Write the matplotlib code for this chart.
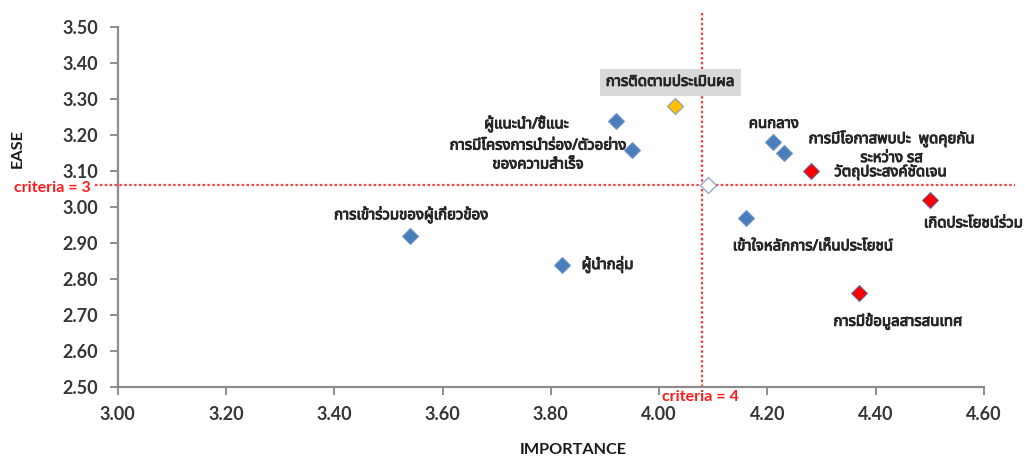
import matplotlib
matplotlib.use("Agg")
import matplotlib.pyplot as plt
from matplotlib import font_manager
from matplotlib import patheffects

# ---------------------------------------------------------------- data
importance = [3.92, 3.95, 4.03, 4.21, 4.23, 4.28, 4.50, 4.16, 4.37, 3.54, 3.82, 4.09]
ease = [3.24, 3.16, 3.28, 3.18, 3.15, 3.10, 3.02, 2.97, 2.76, 2.92, 2.84, 3.06]
groups = ["base", "base", "focus", "base", "base", "key", "key", "base", "key", "base", "base", "mean"]
labels = [
    "ผู้แนะนำ/ชี้แนะ",
    "การมีโครงการนำร่อง/ตัวอย่าง\nของความสำเร็จ",
    "การติดตามประเมินผล",
    "คนกลาง",
    "การมีโอกาสพบปะ  พูดคุยกัน\nระหว่าง รส",
    "วัตถุประสงค์ชัดเจน",
    "เกิดประโยชน์ร่วม",
    "เข้าใจหลักการ/เห็นประโยชน์",
    "การมีข้อมูลสารสนเทศ",
    "การเข้าร่วมของผู้เกี่ยวข้อง",
    "ผู้นำกลุ่ม",
    "",
]
criteria_importance = 4.08
criteria_ease = 3.06
criteria_labels = ["criteria = 4", "criteria = 3"]
x_ticks = [3.00, 3.20, 3.40, 3.60, 3.80, 4.00, 4.20, 4.40, 4.60]
y_ticks = [2.50, 2.60, 2.70, 2.80, 2.90, 3.00, 3.10, 3.20, 3.30, 3.40, 3.50]
x_title = "IMPORTANCE"
y_title = "EASE"


# ---------------------------------------------------------------- fonts
def thai_font_name():
    try:
        from fontTools.ttLib import TTFont
    except Exception:
        return "DejaVu Sans"
    found = []
    for entry in font_manager.fontManager.ttflist:
        try:
            kw = {"fontNumber": 0} if entry.fname.lower().endswith(".ttc") else {}
            cmap = TTFont(entry.fname, lazy=True, **kw).getBestCmap()
        except Exception:
            continue
        if cmap and 0x0E01 in cmap and 0x0E48 in cmap:
            found.append(entry.name)
    for pref in ["Tahoma", "Leelawadee UI", "Noto Sans Thai", "Noto Sans Thai UI",
                 "Sarabun", "Loma", "Garuda", "Norasi", "Waree", "Umpush"]:
        if pref in found:
            return pref
    return found[0] if found else "DejaVu Sans"


THAI = thai_font_name()
LATIN = "Lato"
TEXT_DARK = "#262626"
thicken = [patheffects.withStroke(linewidth=0.7, foreground=TEXT_DARK)]

# ---------------------------------------------------------------- styles
marker_style = {
    "base": dict(mfc="#4A7EBB", mec="#6F97C9", mew=0.8),
    "focus": dict(mfc="#FFC000", mec="#8FA3B8", mew=0.9),
    "key": dict(mfc="#FF0000", mec="#5A6FA8", mew=0.7),
    "mean": dict(mfc="#FFFFFF", mec="#8EA9CF", mew=1.0),
}

# label placement: pixel offset from the marker and anchor
label_pos = [
    ((-89, -3), "center"),
    ((-94, -6), "center"),
    ((-5, 24), "center"),
    ((1, 18), "center"),
    ((108, 5), "center"),
    ((80, -1), "center"),
    ((-6, -24), "left"),
    ((-13, -29), "left"),
    ((-26, -28), "left"),
    ((1, 21), "center"),
    ((20, 0), "left"),
    ((0, 0), "center"),
]

fig = plt.figure(figsize=(10.25, 4.59), dpi=100)
ax = fig.add_axes([0.1148, 0.1575, 0.8452, 0.7830])
ax.set_xlim(3.0, 4.6)
ax.set_ylim(2.5, 3.5)

# criteria guide lines (run slightly past the plot frame)
red = "#FF3B3B"
dots = (0, (1.1, 1.1))
ax.plot([criteria_importance, criteria_importance], [2.5, 3.545], color=red,
        lw=1.6, ls=dots, clip_on=False, zorder=2)
ax.plot([2.958, 4.657], [criteria_ease, criteria_ease], color=red,
        lw=1.6, ls=dots, clip_on=False, zorder=2)

for x, y, g in zip(importance, ease, groups):
    ax.plot(x, y, marker="D", ms=8.6, ls="none", zorder=4, **marker_style[g])

for x, y, g, text, (off, ha) in zip(importance, ease, groups, labels, label_pos):
    if not text:
        continue
    kw = {}
    if g == "focus":
        kw["bbox"] = dict(boxstyle="square,pad=0.4", fc="#D9D9D9", ec="none")
    ax.annotate(text, (x, y), xytext=off, textcoords="offset pixels",
                ha=ha, va="center", multialignment="center",
                fontsize=10.8, fontweight="bold", color=TEXT_DARK,
                family=[THAI, "DejaVu Sans"], linespacing=1.35,
                path_effects=thicken, zorder=5, annotation_clip=False, **kw)

# axes frame
for side in ["top", "right"]:
    ax.spines[side].set_visible(False)
for side in ["left", "bottom"]:
    ax.spines[side].set_color("#8C8C8C")
    ax.spines[side].set_linewidth(1.6)
ax.set_xticks(x_ticks)
ax.set_yticks(y_ticks)
ax.set_xticklabels([f"{v:.2f}" for v in x_ticks])
ax.set_yticklabels([f"{v:.2f}" for v in y_ticks])
ax.tick_params(axis="both", direction="out", length=5.5, width=1.4,
               color="#8C8C8C", labelcolor="#363636", pad=8.5)
for lab in ax.get_xticklabels() + ax.get_yticklabels():
    lab.set_fontfamily([LATIN, "DejaVu Sans"])
    lab.set_fontweight("bold")
    lab.set_fontsize(13)

fig.text(573 / 1025, 1 - 450 / 459, x_title, ha="center", va="center",
         fontsize=11.7, fontweight="bold", color="#1A1A1A", family=[LATIN, "DejaVu Sans"])
fig.text(18 / 1025, 1 - 148 / 459, y_title, ha="center", va="center", rotation=90,
         fontsize=11.7, fontweight="bold", color="#1A1A1A", family=[LATIN, "DejaVu Sans"])

fig.text(52 / 1025, 1 - 188 / 459, criteria_labels[1], ha="center", va="center",
         fontsize=11.5, fontweight="bold", color="#FF1A1A", family=[LATIN, "DejaVu Sans"])
fig.text(700 / 1025, 1 - 397 / 459, criteria_labels[0], ha="center", va="center",
         fontsize=11.5, fontweight="bold", color="#FF1A1A", family=[LATIN, "DejaVu Sans"])

fig.savefig("out.png", dpi=100)
